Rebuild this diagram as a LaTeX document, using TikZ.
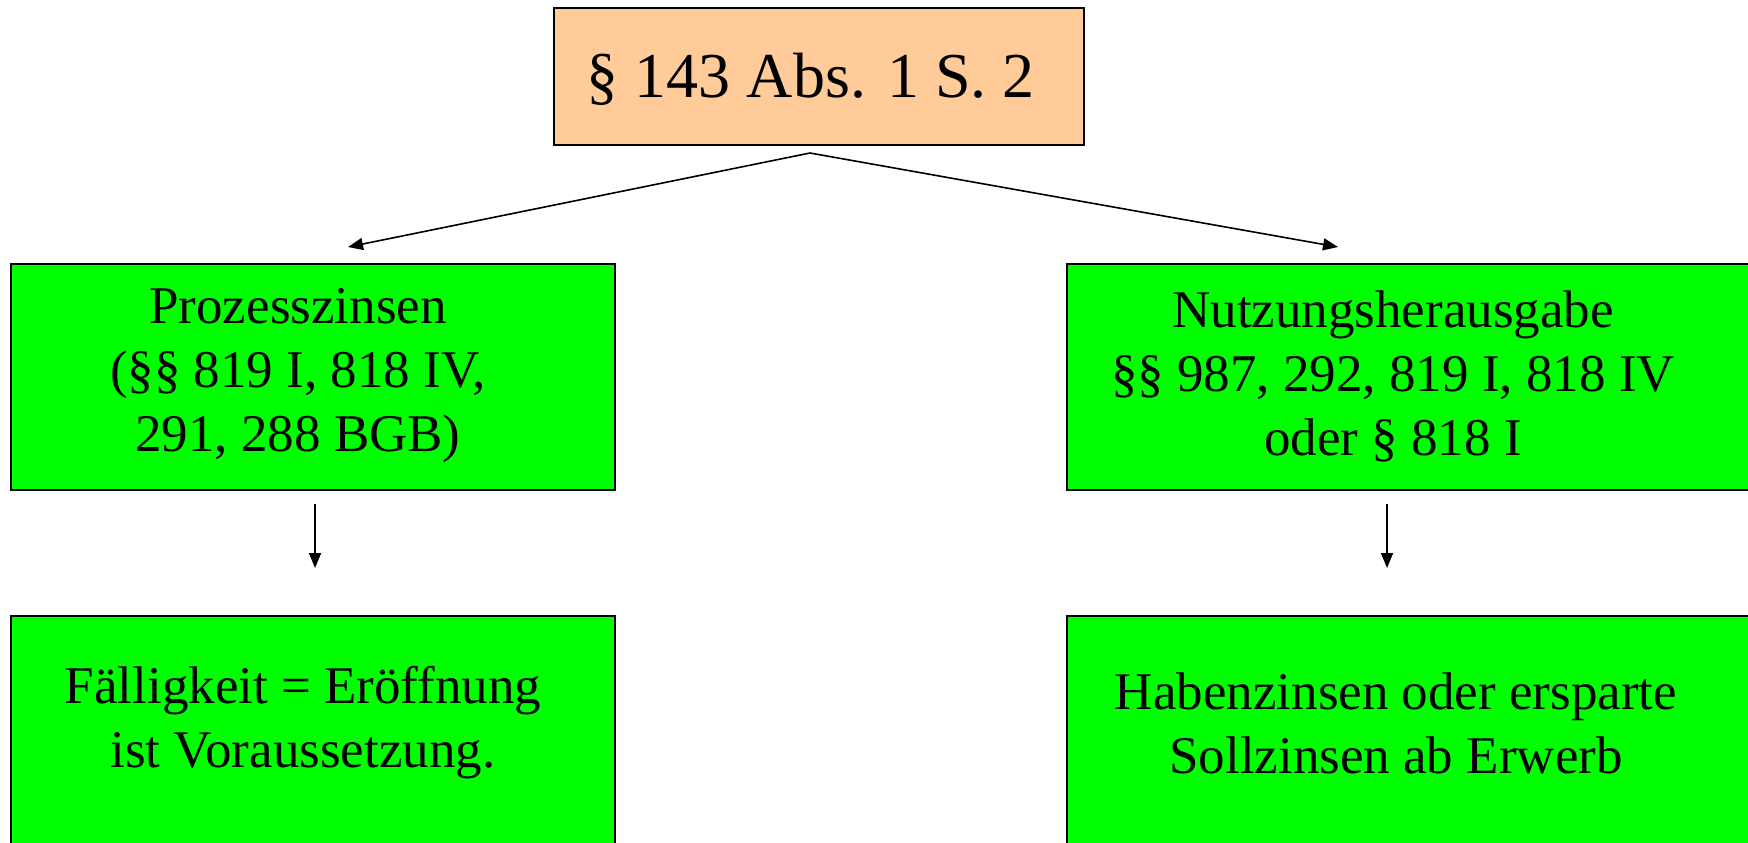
\documentclass[tikz,border=0pt]{standalone}
\usepackage{fontspec}
\setmainfont{Liberation Serif}
\usetikzlibrary{arrows.meta}
\definecolor{boxorange}{HTML}{FFCC99}
\definecolor{boxgreen}{HTML}{00FF00}
\tikzset{
  box/.style={draw=black, line width=1pt, rectangle, inner sep=0pt},
  orangebox/.style={box, fill=boxorange},
  greenbox/.style={box, fill=boxgreen},
  txt/.style={align=center, inner sep=0pt, font=\fontsize{26.5}{32}\selectfont},
  toptxt/.style={inner sep=0pt, font=\fontsize{32}{38}\selectfont},
  conn/.style={line width=0.8pt, -{Triangle[length=7.5pt,width=6pt]}}
}
\begin{document}
\begin{tikzpicture}[x=0.5pt,y=-0.5pt]
\useasboundingbox (0,0) rectangle (1748,842);
% boxes
\node[orangebox, minimum width=265pt, minimum height=68.5pt] (top) at (819,76.5) {};
\node[greenbox, minimum width=302pt, minimum height=113pt] (lbox) at (313,377) {};
\node[greenbox, minimum width=342pt, minimum height=113pt] (rbox) at (1409,377) {};
\node[greenbox, minimum width=302pt, minimum height=120pt] (lbot) at (313,736) {};
\node[greenbox, minimum width=342pt, minimum height=120pt] (rbot) at (1409,736) {};
% texts
\node[toptxt, anchor=base] (toptext) at (811,97) {§ 143 Abs. 1 S. 2};
\node[txt] (ltext) at (298,376) {Prozesszinsen\\(§§ 819 I, 818 IV,\\ 291, 288 BGB)};
\node[txt] (rtext) at (1393,376) {Nutzungsherausgabe\\§§ 987, 292, 819 I, 818 IV\\oder § 818 I};
\node[txt] (lbtext) at (303,723) {Fälligkeit = Eröffnung\\ist Voraussetzung.};
\node[txt] (rbtext) at (1396,723) {Habenzinsen oder ersparte\\Sollzinsen ab Erwerb};
% connector coordinates
\coordinate (apex) at (810,153);
\coordinate (lend) at (348,247);
\coordinate (rend) at (1338,247);
\coordinate (lv1) at (315,504);
\coordinate (lv2) at (315,568);
\coordinate (rv1) at (1387,504);
\coordinate (rv2) at (1387,568);
\draw[conn] (apex) -- (lend);
\draw[conn] (apex) -- (rend);
\draw[conn] (lv1) -- (lv2);
\draw[conn] (rv1) -- (rv2);
\end{tikzpicture}
\end{document}
